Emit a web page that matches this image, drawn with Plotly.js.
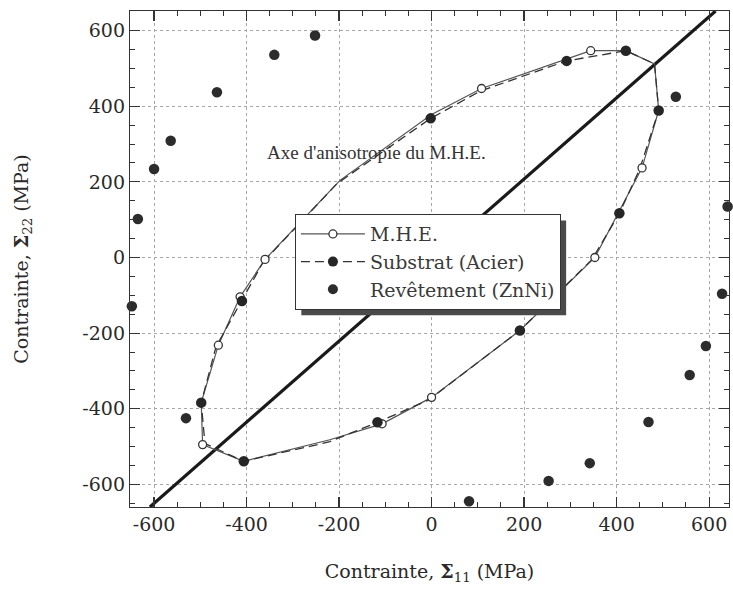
<!DOCTYPE html>
<html>
<head>
<meta charset="utf-8">
<script src="https://cdn.plot.ly/plotly-3.0.1.min.js"></script>
<style>html,body{margin:0;padding:0;background:#fff;}#chart{width:733px;height:593px;}</style>
</head>
<body>
<div id="chart"></div>
<script>
// M.H.E. loop (curve vertices) and its measured (marked) points
const mheX = [-360, -198, 0, 108, 344, 420, 482, 491, 455, 353, 191, 0, -107, -220, -406, -495, -498, -461, -414, -360];
const mheY = [-5, 204, 378, 447, 547, 547, 512, 389, 237, 0, -193, -370, -440, -482, -539, -495, -384, -232, -104, -5];
const mheMarkX = [108, 344, 455, 353, 0, -107, -495, -461, -414, -360];
const mheMarkY = [447, 547, 237, 0, -370, -440, -495, -232, -104, -5];

// Substrat (Acier) loop and its marked points
const subX = [-364, -204, -2, 105, 292, 420, 482, 491, 450, 406, 347, 191, -5, -117, -222, -406, -490, -498, -466, -410, -364];
const subY = [-12, 196, 368, 440, 520, 547, 512, 389, 234, 117, -5, -193, -376, -436, -488, -539, -492, -384, -236, -115, -12];
const subMarkX = [-2, 292, 420, 491, 406, 191, -117, -406, -498, -410];
const subMarkY = [368, 520, 547, 389, 117, -193, -436, -539, -384, -115];

// Revêtement (ZnNi)
const revX = [-2, 110, -252, -340, -464, -564, -600, -635, -648, -531, 81, 253, 342, 469, 558, 593, 628, 640, 528];
const revY = [653, 655, 587, 536, 437, 309, 234, 102, -129, -425, -645, -591, -544, -435, -311, -234, -96, 135, 425];

// Anisotropy axis of the M.H.E.
const axisX = [-609, 614];
const axisY = [-660, 652];

const tickVals = [-600, -400, -200, 0, 200, 400, 600];
const tickText = ['-600', '-400', '-200', '0', '200', '400', '600'];

const wideSerif = 'DejaVu Serif, serif';
const serif = 'Liberation Serif, Times New Roman, serif';
const dark = '#2a2a2a';

const traces = [
  {x: axisX, y: axisY, mode: 'lines', line: {color: '#1a1a1a', width: 3.2}, showlegend: false, hoverinfo: 'skip'},
  {x: mheX, y: mheY, mode: 'lines', line: {color: '#555', width: 1.2}, showlegend: false},
  {x: subX, y: subY, mode: 'lines', line: {color: '#333', width: 1.3, dash: '9px,5px'}, showlegend: false},
  {x: mheMarkX, y: mheMarkY, mode: 'markers', marker: {symbol: 'circle', size: 8, color: '#fff', line: {color: '#333', width: 1.3}}, showlegend: false},
  {x: subMarkX, y: subMarkY, mode: 'markers', marker: {symbol: 'circle', size: 10.5, color: '#262626'}, showlegend: false},
  {x: revX, y: revY, mode: 'markers', marker: {symbol: 'circle', size: 10.5, color: '#2c2c2c'}, showlegend: false, cliponaxis: false},
  // legend entries
  {x: [null], y: [null], name: 'M.H.E.', mode: 'lines+markers', line: {color: '#555', width: 1.2}, marker: {symbol: 'circle', size: 8, color: '#fff', line: {color: '#333', width: 1.3}}},
  {x: [null], y: [null], name: 'Substrat (Acier)', mode: 'lines+markers', line: {color: '#333', width: 1.3, dash: '9px,5px'}, marker: {symbol: 'circle', size: 10, color: '#262626'}},
  {x: [null], y: [null], name: 'Revêtement (ZnNi)', mode: 'markers', marker: {symbol: 'circle', size: 10, color: '#2c2c2c'}}
];

const axisCommon = {
  showline: true, linecolor: '#333', linewidth: 1.2, mirror: 'ticks',
  ticks: 'inside', ticklen: 10, tickwidth: 1.2, tickcolor: '#333',
  tickvals: tickVals, ticktext: tickText,
  tickfont: {family: wideSerif, size: 19, color: dark},
  showgrid: true, gridcolor: '#a8a8a8', gridwidth: 1, griddash: 'dot',
  zeroline: false,
  minor: {dtick: 50, tick0: 0, ticks: 'inside', ticklen: 5, tickcolor: '#333', tickwidth: 1, showgrid: false}
};

const layout = {
  width: 733, height: 593,
  margin: {l: 130, r: 4, t: 11, b: 86},
  paper_bgcolor: '#fff', plot_bgcolor: '#fff',
  xaxis: Object.assign({}, axisCommon, {
    range: [-652, 643],
    title: {text: 'Contrainte, <b>Σ</b><sub>11</sub> (MPa)', font: {family: wideSerif, size: 19, color: dark}, standoff: 30}
  }),
  yaxis: Object.assign({}, axisCommon, {
    range: [-660, 652],
    title: {text: 'Contrainte, <b>Σ</b><sub>22</sub> (MPa)', font: {family: wideSerif, size: 19, color: dark}, standoff: 48}
  }),
  showlegend: true,
  legend: {
    x: 0.275, y: 0.591, xanchor: 'left', yanchor: 'top',
    bgcolor: '#fff', bordercolor: '#333', borderwidth: 1.2,
    font: {family: wideSerif, size: 19, color: '#3a3a3a'},
    itemwidth: 64, tracegroupgap: 0
  },
  annotations: [{
    x: -360, y: 278, xref: 'x', yref: 'y', xanchor: 'left', yanchor: 'middle',
    text: "Axe d'anisotropie du M.H.E.", showarrow: false,
    font: {family: serif, size: 19, color: '#333'}
  }]
};

Plotly.newPlot('chart', traces, layout, {staticPlot: true, displayModeBar: false}).then(function (gd) {
  // drop shadow behind the legend box, sized from the rendered legend
  const bg = gd.querySelector('.legend .bg');
  if (!bg) return;
  const r = bg.getBoundingClientRect();
  const c = gd.getBoundingClientRect();
  const s = gd._fullLayout._size;
  const off = 6;
  const px = v => (v - c.left - s.l) / s.w;
  const py = v => 1 - (v - c.top - s.t) / s.h;
  return Plotly.relayout(gd, {shapes: [{
    type: 'rect', xref: 'paper', yref: 'paper', layer: 'above',
    x0: px(r.left + off), x1: px(r.right + off),
    y0: py(r.bottom + off), y1: py(r.top + off),
    fillcolor: '#4a4a4a', line: {width: 0}
  }]});
});
</script>
</body>
</html>
